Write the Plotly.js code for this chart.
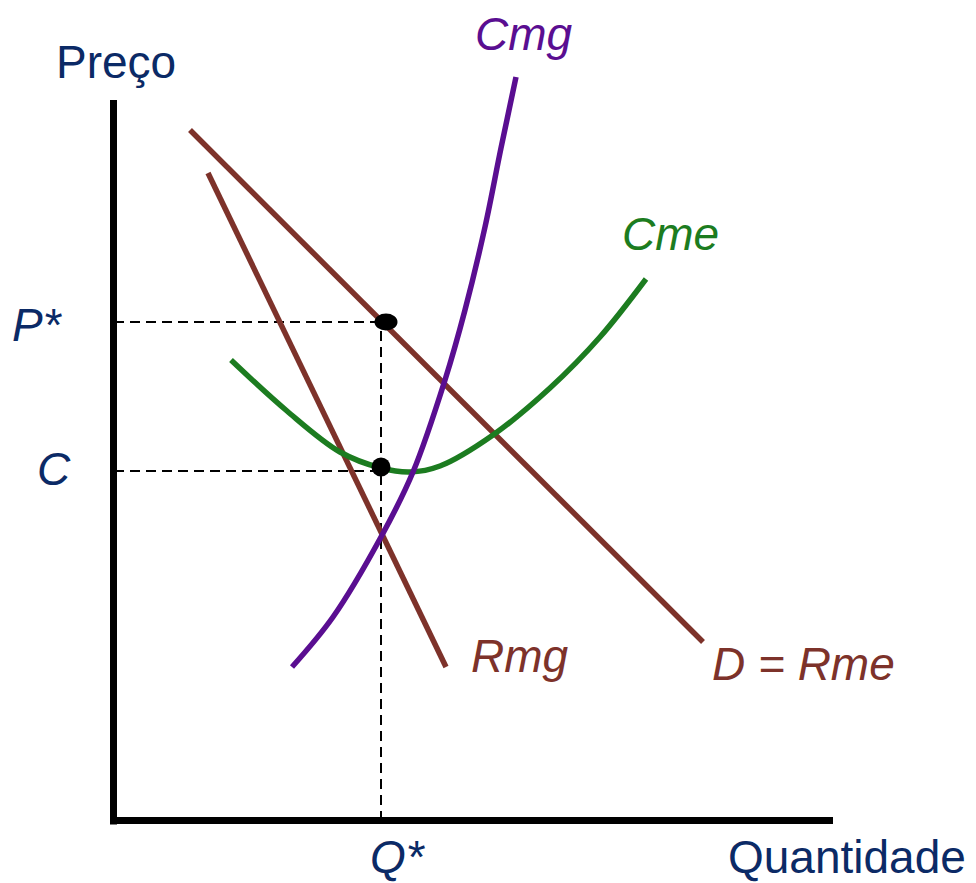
<!DOCTYPE html>
<html>
<head>
<meta charset="utf-8">
<script src="https://cdn.plot.ly/plotly-3.0.1.min.js"></script>
<style>html,body{margin:0;padding:0;background:#fff;}#chart{width:976px;height:883px;}</style>
</head>
<body>
<div id="chart"></div>
<script>
// Demand (D = Rme)
const demandQ = [7.6, 58.9];
const demandP = [69.1, 17.9];
// Marginal revenue (Rmg)
const rmgQ = [9.4, 33.2];
const rmgP = [64.8, 15.4];
// Marginal cost (Cmg)
const cmgQ = [17.8, 21.9, 26.7, 29.9, 33.1, 35.1, 37.1, 38.7, 40.2];
const cmgP = [15.4, 20.4, 28.4, 34.9, 44.1, 51.1, 59.4, 67.3, 74.4];
// Average cost (Cme)
const cmeQ = [11.7, 17.3, 22.6, 26.7, 29.6, 32.6, 37.9, 43.6, 48.6, 53.2];
const cmeP = [46.1, 41.0, 36.9, 35.3, 34.9, 35.5, 38.6, 43.3, 48.4, 54.2];
// Equilibrium values
const qStar = 26.7;
const pStar = 49.9;
const pStarDotQ = 27.2;
const cVal = 35.0;
const cDotP = 35.4;
// Axis extents
const axisQMax = 71.9;
const axisPMax = 72.1;
// Labels
const labelTexts = ["Preço", "Quantidade", "P*", "C", "Q*", "Cmg", "Cme", "Rmg", "D = Rme"];

const brown = "#7d322a", purple = "#5a0e91", green = "#1c7c20", navy = "#0b2a66";
const dashStyle = "10px,6px";

const traces = [
  {x: [0, qStar], y: [pStar, pStar], mode: "lines", line: {color: "#000", width: 2, dash: dashStyle}},
  {x: [0, qStar], y: [cVal, cVal], mode: "lines", line: {color: "#000", width: 2, dash: dashStyle}},
  {x: [qStar, qStar], y: [0, pStar], mode: "lines", line: {color: "#000", width: 2, dash: dashStyle}},
  {x: demandQ, y: demandP, mode: "lines", line: {color: brown, width: 5.5}},
  {x: rmgQ, y: rmgP, mode: "lines", line: {color: brown, width: 5.5}},
  {x: cmeQ, y: cmeP, mode: "lines", line: {color: green, width: 5.5, shape: "spline", smoothing: 1}},
  {x: cmgQ, y: cmgP, mode: "lines", line: {color: purple, width: 5.5, shape: "spline", smoothing: 1}}
];

const shapes = [
  {type: "line", xref: "x", yref: "y", x0: -0.05, x1: -0.05, y0: -0.35, y1: axisPMax, line: {color: "#000", width: 7}},
  {type: "line", xref: "x", yref: "y", x0: -0.4, x1: axisQMax, y0: 0.05, y1: 0.05, line: {color: "#000", width: 7}},
  {type: "circle", xref: "x", yref: "y", x0: pStarDotQ - 1.15, x1: pStarDotQ + 1.15, y0: pStar - 0.85, y1: pStar + 0.85, fillcolor: "#000", line: {width: 0}},
  {type: "circle", xref: "x", yref: "y", x0: qStar - 0.95, x1: qStar + 0.95, y0: cDotP - 0.95, y1: cDotP + 0.95, fillcolor: "#000", line: {width: 0}}
];

function ann(text, x, y, color, italic) {
  return {text: italic ? "<i>" + text + "</i>" : text, x: x, y: y, xref: "x", yref: "y",
    showarrow: false, xanchor: "center", yanchor: "middle", borderpad: 0,
    font: {family: "Liberation Sans, Arial, sans-serif", size: 46, color: color}};
}
// label positions
const annotations = [
  ann(labelTexts[0], 0.2, 75.9, navy, false),
  ann(labelTexts[1], 73.3, -3.6, navy, false),
  ann(labelTexts[2], -7.7, 49.6, navy, true),
  ann(labelTexts[3], -6.0, 35.2, navy, true),
  ann(labelTexts[4], 28.4, -3.6, navy, true),
  ann(labelTexts[5], 41.0, 78.7, purple, true),
  ann(labelTexts[6], 55.6, 58.7, green, true),
  ann(labelTexts[7], 40.6, 16.5, brown, true),
  ann(labelTexts[8], 68.9, 15.7, brown, true)
];

const layout = {
  width: 976, height: 883,
  margin: {l: 0, r: 0, t: 0, b: 0, pad: 0},
  paper_bgcolor: "#fff", plot_bgcolor: "#fff",
  showlegend: false,
  xaxis: {range: [-11.4, 86.2], showgrid: false, zeroline: false, showticklabels: false, showline: false, ticks: "", fixedrange: true},
  yaxis: {range: [-6.2, 82.1], showgrid: false, zeroline: false, showticklabels: false, showline: false, ticks: "", fixedrange: true},
  shapes: shapes,
  annotations: annotations
};

Plotly.newPlot("chart", traces, layout, {staticPlot: true, displayModeBar: false});
</script>
</body>
</html>
